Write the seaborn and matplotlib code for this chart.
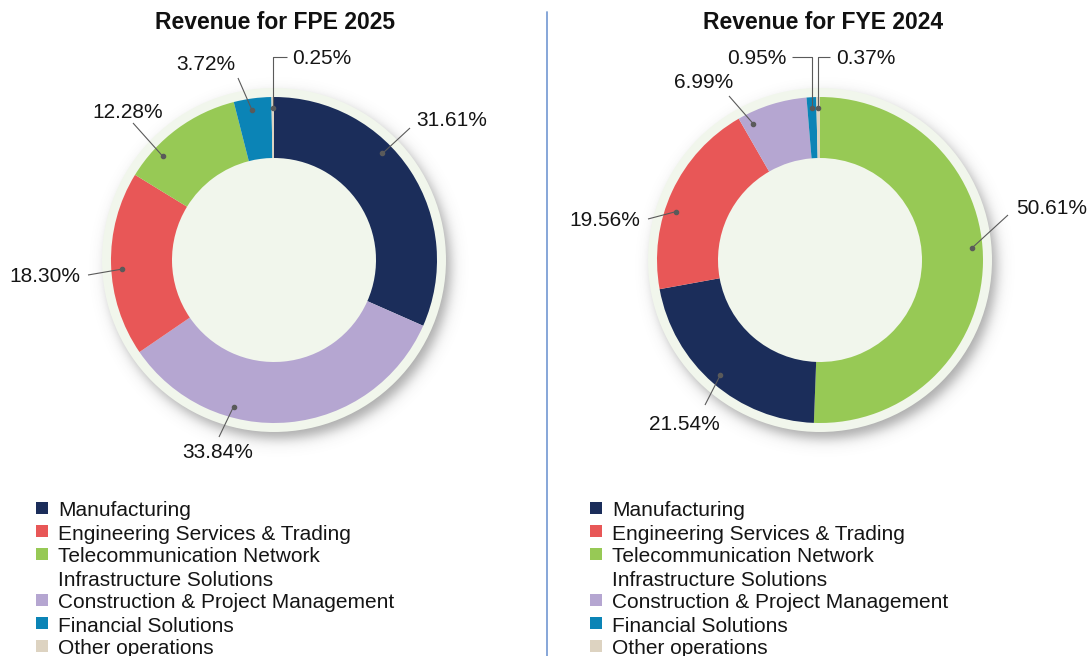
import numpy as np
import matplotlib
matplotlib.use("Agg")
import matplotlib.pyplot as plt
import seaborn as sns
from matplotlib.patches import Circle, Rectangle

# ---------------- data ----------------
categories = ["Manufacturing",
              "Engineering Services & Trading",
              "Telecommunication Network\nInfrastructure Solutions",
              "Construction & Project Management",
              "Financial Solutions",
              "Other operations"]
fpe_2025 = [31.61, 18.30, 12.28, 33.84, 3.72, 0.25]
fye_2024 = [21.54, 19.56, 50.61, 6.99, 0.95, 0.37]
titles = ["Revenue for FPE 2025", "Revenue for FYE 2024"]
# clockwise order of slices starting from 12 o'clock
order_fpe = [0, 3, 1, 2, 4, 5]
order_fye = [2, 0, 1, 3, 4, 5]

# ---------------- style ----------------
sns.set_theme(style="white")
plt.rcParams['font.family'] = ['Liberation Sans', 'DejaVu Sans']
palette = sns.color_palette(["#1b2d5a", "#e85757", "#97c955",
                             "#b5a6d1", "#0b84b6", "#ddd3c1"])
RING_BG = "#f1f6ec"
TEXT_C = "#151515"
LEADER_C = "#5a5a5a"

W, H = 1088, 656
R_OUT, R_IN, R_BG = 163, 102, 172
R_DOT = 152

# label layout (pixel offsets from donut centre, y down): anchor fraction in wedge,
# leader end, text anchor, alignment, elbow leader
layout_fpe = {
    0: dict(frac=0.40, end=(136, -132), text=(142, -142), ha="left"),
    3: dict(frac=0.67, end=(-55, 177), text=(-56, 190), ha="center"),
    1: dict(frac=0.47, end=(-186, 15), text=(-194, 15), ha="right"),
    2: dict(frac=0.26, end=(-141, -137), text=(-146, -150), ha="center"),
    4: dict(frac=0.44, end=(-36, -182), text=(-68, -198), ha="center"),
    5: dict(frac=0.50, end=(13, -203), text=(18, -203), ha="left", elbow=True),
}
layout_fye = {
    2: dict(frac=0.47, end=(188, -45), text=(196, -53), ha="left"),
    0: dict(frac=0.50, end=(-115, 145), text=(-136, 162), ha="center"),
    1: dict(frac=0.41, end=(-172, -41), text=(-180, -42), ha="right"),
    3: dict(frac=0.15, end=(-91, -164), text=(-116, -180), ha="center"),
    4: dict(frac=0.50, end=(-28, -203), text=(-33, -203), ha="right", elbow=True),
    5: dict(frac=0.50, end=(10, -203), text=(16, -203), ha="left", elbow=True),
}

charts = [
    dict(values=fpe_2025, order=order_fpe, center=(274, 260), title=titles[0],
         title_x=275, legend_x=36, layout=layout_fpe),
    dict(values=fye_2024, order=order_fye, center=(820, 260), title=titles[1],
         title_x=823, legend_x=590, layout=layout_fye),
]

fig = plt.figure(figsize=(W / 100, H / 100), dpi=100)
ax = fig.add_axes([0, 0, 1, 1])


def P(px, py):
    return px, H - py


CAP = 7.5  # half cap-height in px (15pt text)

for ch in charts:
    cx, cy = ch["center"]
    vals = [ch["values"][i] for i in ch["order"]]
    cols = [palette[i] for i in ch["order"]]

    # soft drop shadow (lower right)
    gx = np.arange(cx - 200, cx + 201)
    gy = np.arange(cy - 200, cy + 201)
    XX, YY = np.meshgrid(gx, gy)
    d = np.hypot(XX - (cx + 5), YY - (cy + 7))
    alpha = 0.5 / (1 + np.exp((d - R_BG) / 3.8))
    img = np.zeros(XX.shape + (4,))
    img[..., :3] = 0.33
    img[..., 3] = alpha
    ax.imshow(img, extent=(gx[0], gx[-1], H - gy[-1], H - gy[0]),
              origin="upper", zorder=0, interpolation="bilinear")

    ax.add_patch(Circle(P(cx, cy), R_BG, facecolor=RING_BG, edgecolor="none", zorder=1))

    wedges, _ = ax.pie(vals, colors=cols, startangle=90, counterclock=False,
                       radius=R_OUT, center=P(cx, cy), frame=True,
                       wedgeprops=dict(width=R_OUT - R_IN, linewidth=0))
    for w in wedges:
        w.set_zorder(2)

    cum = np.concatenate([[0], np.cumsum(vals)]) / sum(vals) * 360
    for k, idx in enumerate(ch["order"]):
        lay = ch["layout"][idx]
        theta = np.deg2rad(cum[k] + lay["frac"] * (cum[k + 1] - cum[k]))
        dx_, dy_ = R_DOT * np.sin(theta), -R_DOT * np.cos(theta)
        dot = (cx + dx_, cy + dy_)
        end = (cx + lay["end"][0], cy + lay["end"][1])
        if lay.get("elbow"):
            pts = [dot, (dot[0], end[1]), end]
        else:
            pts = [dot, end]
        xs = [p[0] for p in pts]
        ys = [H - p[1] for p in pts]
        ax.plot(xs, ys, color=LEADER_C, lw=0.8, zorder=3, solid_capstyle="butt")
        ax.plot([xs[0]], [ys[0]], "o", ms=3.0, color=LEADER_C, zorder=4)
        tx, ty = cx + lay["text"][0], cy + lay["text"][1]
        ax.text(*P(tx, ty + CAP), f"{ch['values'][idx]:.2f}%", ha=lay["ha"],
                va="baseline", fontsize=15, color=TEXT_C, zorder=5)

    # title
    ax.text(*P(ch["title_x"], 29), ch["title"], ha="center", va="baseline",
            fontsize=16.5, fontweight="bold", color="#111111")

    # legend
    row = 0
    for i, name in enumerate(categories):
        y = 509 + 23 * row
        ax.add_patch(Rectangle((ch["legend_x"], H - (y + 5)), 12, 12,
                               facecolor=palette[i], edgecolor="none"))
        for j, line in enumerate(name.split("\n")):
            yy = 509 + 23 * (row + j)
            ax.text(*P(ch["legend_x"] + 22, yy + CAP), line, ha="left",
                    va="baseline", fontsize=15, color=TEXT_C)
        row += len(name.split("\n"))

# divider
ax.plot([547, 547], [H - 12, 0], color="#7d9fd5", lw=1.3)

ax.set_xlim(0, W)
ax.set_ylim(0, H)
ax.set_aspect("auto")
ax.axis("off")

fig.savefig("out.png", dpi=100, facecolor="white")
